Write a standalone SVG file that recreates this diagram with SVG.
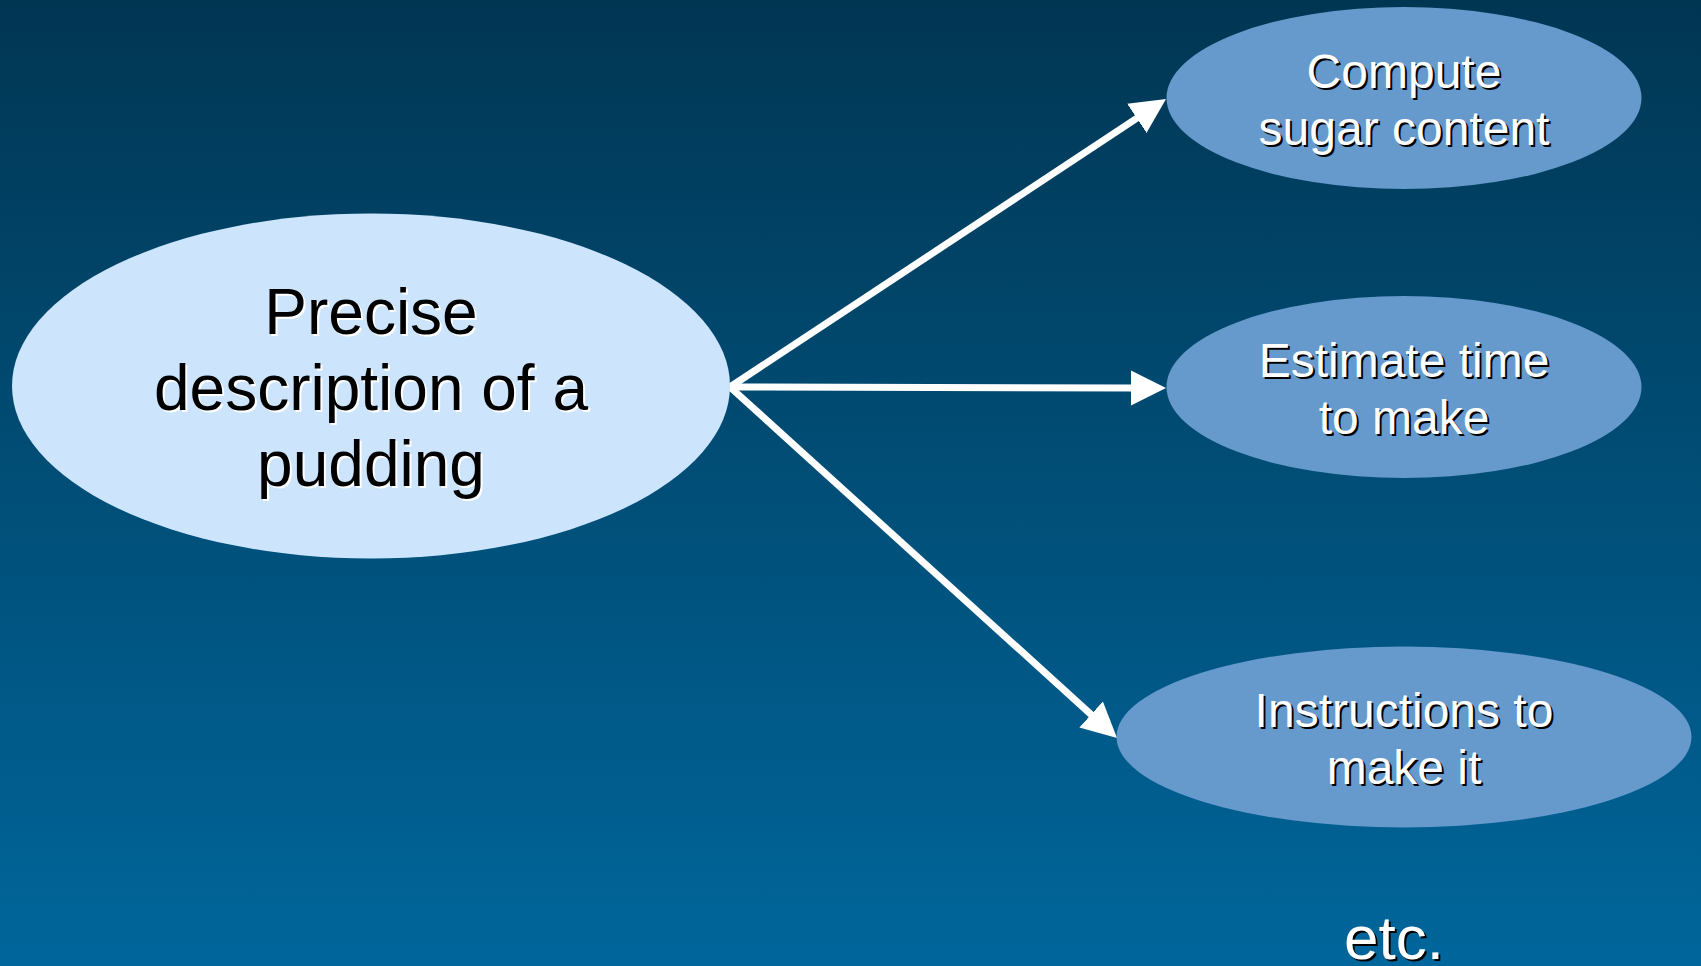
<svg xmlns="http://www.w3.org/2000/svg" width="1701" height="966" viewBox="0 0 1701 966">
  <defs>
    <linearGradient id="bg" x1="0" y1="0" x2="0" y2="1">
      <stop offset="0" stop-color="#013653"/>
      <stop offset="1" stop-color="#00669b"/>
    </linearGradient>
    <marker id="arrow" markerUnits="userSpaceOnUse" markerWidth="36" markerHeight="36" refX="2" refY="17.5" orient="auto" viewBox="0 0 36 36">
      <path d="M0,0 L35,17.5 L0,35 z" fill="#ffffff"/>
    </marker>
  </defs>
  <style>
    .lbl { font-family: "Liberation Sans", Arial, sans-serif; text-anchor: middle; }
    .big { font-size: 64px; }
    .small { font-size: 48px; }
    .etc { font-size: 62px; }
    .dark { fill: #000000; }
    .light { fill: #ffffff; }
    .conn { stroke: #ffffff; stroke-width: 7; fill: none; marker-end: url(#arrow); }
  </style>
  <rect x="0" y="0" width="1701" height="966" fill="url(#bg)"/>

  <g id="connectors">
    <line class="conn" x1="730" y1="387" x2="1138.5" y2="117.2"/>
    <line class="conn" x1="730" y1="387" x2="1133" y2="388"/>
    <line class="conn" x1="730" y1="387" x2="1092.6" y2="715.8"/>
  </g>

  <g id="node-pudding">
    <ellipse cx="371" cy="386" rx="359" ry="172.5" fill="#cce5fc"/>
    <g class="lbl big light" transform="translate(2,2)">
      <text x="371" y="334">Precise</text>
      <text x="371" y="410">description of a</text>
      <text x="371" y="486">pudding</text>
    </g>
    <g class="lbl big dark">
      <text x="371" y="334">Precise</text>
      <text x="371" y="410">description of a</text>
      <text x="371" y="486">pudding</text>
    </g>
  </g>

  <g id="node-sugar">
    <ellipse cx="1404" cy="98" rx="237.5" ry="91" fill="#6699cc"/>
    <g class="lbl small dark" transform="translate(2,2)">
      <text x="1404" y="88">Compute</text>
      <text x="1404" y="145">sugar content</text>
    </g>
    <g class="lbl small light">
      <text x="1404" y="88">Compute</text>
      <text x="1404" y="145">sugar content</text>
    </g>
  </g>

  <g id="node-time">
    <ellipse cx="1404" cy="387" rx="237.5" ry="91" fill="#6699cc"/>
    <g class="lbl small dark" transform="translate(2,2)">
      <text x="1404" y="377">Estimate time</text>
      <text x="1404" y="434">to make</text>
    </g>
    <g class="lbl small light">
      <text x="1404" y="377">Estimate time</text>
      <text x="1404" y="434">to make</text>
    </g>
  </g>

  <g id="node-instructions">
    <ellipse cx="1404" cy="737" rx="287.5" ry="90.5" fill="#6699cc"/>
    <g class="lbl small dark" transform="translate(2,2)">
      <text x="1404" y="727">Instructions to</text>
      <text x="1404" y="784">make it</text>
    </g>
    <g class="lbl small light">
      <text x="1404" y="727">Instructions to</text>
      <text x="1404" y="784">make it</text>
    </g>
  </g>

  <g id="etc">
    <text class="lbl etc dark" x="1396" y="961">etc.</text>
    <text class="lbl etc light" x="1394" y="959">etc.</text>
  </g>
</svg>
